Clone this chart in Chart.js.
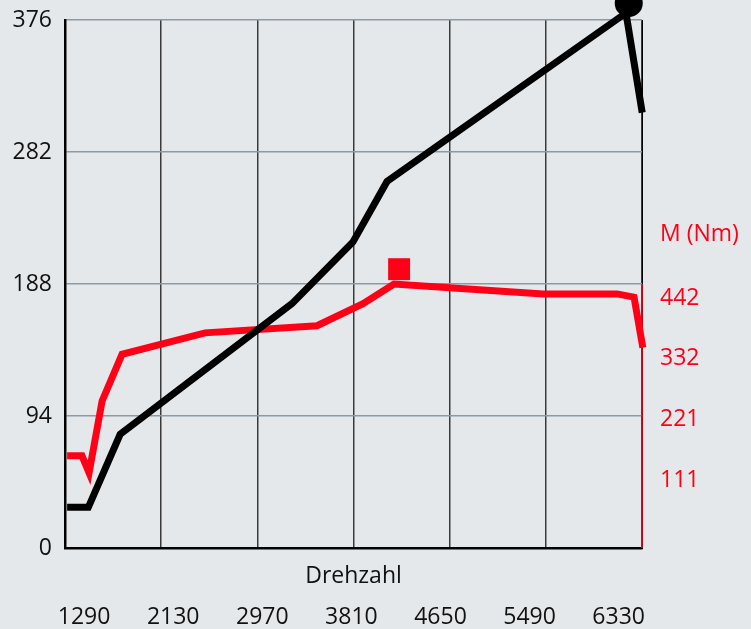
<!DOCTYPE html>
<html>
<head>
<meta charset="utf-8">
<script src="https://cdn.jsdelivr.net/npm/chart.js@4.4.0/dist/chart.umd.min.js"></script>
<style>
  html, body { margin: 0; padding: 0; background: #e4e8eb; }
  canvas { display: block; }
</style>
</head>
<body>
<canvas id="chart" width="751" height="629"></canvas>
<script>
// Leistung (black) against Drehzahl
var powerRpm = [1130, 1330, 1630, 3250, 3825, 4146, 6399, 6552];
var powerValues = [29, 29, 81, 174, 218, 261, 381, 310];

// Drehmoment M (red) against Drehzahl
var torqueRpm = [1130, 1270, 1337, 1460, 1648, 2430, 3486, 3920, 4212, 5617, 6315, 6475, 6558];
var torqueValues = [168, 168, 137, 268, 353, 392, 405, 445, 481, 463, 463, 457, 365];

// peak markers
var powerPeak = { x: 6425, y: 388 };
var torquePeak = { x: 4260, y: 508 };

// axes
var rpmLabels = [1290, 2130, 2970, 3810, 4650, 5490, 6330];
var powerTicks = [0, 94, 188, 282, 376];
var torqueTicks = [111, 221, 332, 442];
var torqueAxisTop = 480;

var RED = '#ff0016';
var FONT = { family: "'Open Sans', 'Noto Sans', sans-serif", size: 23 };

function fixedTicks(list) {
  return function (scale) {
    scale.ticks = list.map(function (v) { return { value: v }; });
  };
}

function fixedWidth(w) {
  return function (scale) {
    scale.width = w;
    scale.paddingTop = 0;
    scale.paddingBottom = 0;
  };
}

// red axis segment and the "M (Nm)" caption
var torqueAxisPlugin = {
  id: 'torqueAxis',
  beforeDatasetsDraw: function (chart) {
    var ctx = chart.ctx;
    var s = chart.scales.y2;
    ctx.save();
    ctx.strokeStyle = RED;
    ctx.lineWidth = 1.5;
    ctx.beginPath();
    ctx.moveTo(s.left, s.getPixelForValue(0));
    ctx.lineTo(s.left, s.getPixelForValue(torqueAxisTop));
    ctx.stroke();
    ctx.fillStyle = RED;
    ctx.font = FONT.size + 'px ' + FONT.family;
    ctx.textAlign = 'left';
    ctx.textBaseline = 'middle';
    ctx.fillText('M (Nm)', s.left + 18, s.getPixelForValue(torqueAxisTop) - 50);
    ctx.restore();
  }
};

var ctx = document.getElementById('chart').getContext('2d');
new Chart(ctx, {
  type: 'line',
  data: {
    datasets: [
      {
        data: powerRpm.map(function (r, i) { return { x: r, y: powerValues[i] }; }),
        borderColor: '#000',
        borderWidth: 7,
        pointRadius: 0,
        xAxisID: 'x',
        yAxisID: 'y',
        clip: false
      },
      {
        data: torqueRpm.map(function (r, i) { return { x: r, y: torqueValues[i] }; }),
        borderColor: RED,
        borderWidth: 7,
        pointRadius: 0,
        xAxisID: 'x',
        yAxisID: 'y2',
        clip: false
      },
      {
        data: [powerPeak],
        showLine: false,
        pointStyle: 'circle',
        pointRadius: 14,
        pointHoverRadius: 20,
        pointBackgroundColor: '#000',
        pointBorderWidth: 0,
        xAxisID: 'x',
        yAxisID: 'y',
        clip: false
      },
      {
        data: [torquePeak],
        showLine: false,
        pointStyle: 'rect',
        pointRadius: 15.5,
        pointBackgroundColor: RED,
        pointBorderWidth: 0,
        xAxisID: 'x',
        yAxisID: 'y2',
        clip: false
      }
    ]
  },
  options: {
    responsive: false,
    animation: false,
    devicePixelRatio: 1,
    events: [],
    layout: { padding: { top: 16, left: 0, right: 0, bottom: 0 } },
    plugins: { legend: { display: false }, tooltip: { enabled: false } },
    scales: {
      x: {
        type: 'linear',
        position: 'bottom',
        weight: 0,
        min: 1110,
        max: 6550,
        afterBuildTicks: function (scale) {
          var step = (scale.max - scale.min) / 6;
          var t = [];
          for (var k = 0; k <= 6; k++) t.push({ value: scale.min + k * step });
          scale.ticks = t;
        },
        afterFit: function (scale) { scale.height = 45; },
        grid: { color: '#3a3a3a', lineWidth: 1.5, drawTicks: false },
        border: { color: '#000', width: 2.5 },
        ticks: { display: false },
        title: {
          display: true,
          text: 'Drehzahl',
          color: '#111',
          font: FONT,
          padding: { top: 0, bottom: 3 }
        }
      },
      x2: {
        type: 'linear',
        position: 'bottom',
        weight: 1,
        min: 1110,
        max: 6550,
        afterBuildTicks: fixedTicks(rpmLabels),
        afterFit: function (scale) { scale.height = 36; },
        grid: { display: false, drawTicks: false },
        border: { display: false },
        ticks: {
          color: '#111',
          font: FONT,
          padding: 11,
          maxRotation: 0,
          autoSkip: false,
          callback: function (v) { return String(v); }
        }
      },
      y: {
        type: 'linear',
        position: 'left',
        min: 0,
        max: 376,
        afterBuildTicks: fixedTicks(powerTicks),
        afterFit: fixedWidth(65),
        grid: { color: '#8d99a6', lineWidth: 1.5, drawTicks: false },
        border: { color: '#000', width: 2.5 },
        ticks: { color: '#111', font: FONT, padding: 13 }
      },
      y2: {
        type: 'linear',
        position: 'right',
        min: 0,
        max: 962,
        afterBuildTicks: fixedTicks(torqueTicks),
        afterFit: fixedWidth(109),
        grid: { display: false, drawTicks: false },
        border: { color: '#000', width: 1 },
        ticks: { color: RED, font: FONT, padding: 18, labelOffset: -7 }
      }
    }
  },
  plugins: [torqueAxisPlugin]
});
</script>
</body>
</html>
